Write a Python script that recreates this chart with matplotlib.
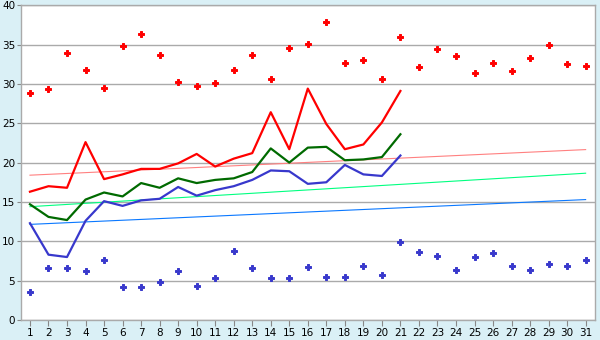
import matplotlib
matplotlib.use("Agg")
import matplotlib.pyplot as plt

days = list(range(1, 32))

# record max / min temperatures (scatter)
rec_max = [28.9, 29.3, 33.9, 31.8, 29.5, 34.8, 36.3, 33.7, 30.2, 29.7,
           30.1, 31.7, 33.7, 30.6, 34.6, 35.1, 37.8, 32.7, 33.0, 30.6,
           36.0, 32.2, 34.4, 33.5, 31.4, 32.6, 31.6, 33.3, 35.0, 32.5, 32.3]
rec_min = [3.6, 6.6, 6.6, 6.2, 7.6, 4.2, 4.2, 4.8, 6.2, 4.3,
           5.4, 8.8, 6.6, 5.4, 5.3, 6.7, 5.5, 5.5, 6.9, 5.7,
           9.9, 8.6, 8.1, 6.3, 8.0, 8.5, 6.9, 6.4, 7.1, 6.8, 7.6]

# this month's observed series (days 1-21)
obs_days = list(range(1, 22))
obs_max = [16.3, 17.0, 16.8, 22.6, 17.9, 18.5, 19.2, 19.2, 19.9, 21.1,
           19.5, 20.5, 21.2, 26.4, 21.7, 29.4, 24.9, 21.7, 22.3, 25.1, 29.1]
obs_avg = [14.7, 13.1, 12.7, 15.3, 16.2, 15.7, 17.4, 16.8, 18.0, 17.4,
           17.8, 18.0, 18.8, 21.8, 20.0, 21.9, 22.0, 20.3, 20.4, 20.7, 23.6]
obs_min = [12.3, 8.3, 8.0, 12.6, 15.1, 14.5, 15.2, 15.4, 16.9, 15.8,
           16.5, 17.0, 17.8, 19.0, 18.9, 17.3, 17.5, 19.7, 18.5, 18.3, 20.9]

# normal (climatological) trend lines, day 1 and day 31
trend_days = [1, 31]
norm_max = [18.4, 21.65]
norm_avg = [14.4, 18.65]
norm_min = [12.15, 15.3]

yticks = [0, 5, 10, 15, 20, 25, 30, 35, 40]

bg = "#daf0f6"
fig = plt.figure(figsize=(6, 3.4), dpi=100, facecolor=bg)
ax = fig.add_axes([0.0345, 0.0588, 0.957, 0.926])
ax.set_facecolor("white")

ax.plot(trend_days, norm_max, color="#ff8080", lw=0.8, zorder=2)
ax.plot(trend_days, norm_avg, color="#00ff80", lw=0.8, zorder=2)
ax.plot(trend_days, norm_min, color="#0a78ff", lw=0.8, zorder=2)

ax.plot(obs_days, obs_max, color="#ff0000", lw=1.6, zorder=3)
ax.plot(obs_days, obs_avg, color="#006a00", lw=1.6, zorder=3)
ax.plot(obs_days, obs_min, color="#3838cc", lw=1.6, zorder=3)

ax.plot(days, rec_max, linestyle="none", marker="P", markersize=4.5,
        color="#ff0000", markeredgewidth=0.7, zorder=4)
ax.plot(days, rec_min, linestyle="none", marker="P", markersize=4.5,
        color="#3838cc", markeredgewidth=0.7, zorder=4)

ax.set_xlim(0.5, 31.5)
ax.set_ylim(0, 40)
ax.set_xticks(days)
ax.set_xticklabels([str(d) for d in days])
ax.set_yticks(yticks)
ax.set_yticklabels([str(v) for v in yticks])
ax.yaxis.grid(True, color="#aaaaaa", lw=1.0)
ax.set_axisbelow(True)
for s in ax.spines.values():
    s.set_color("#aaaaaa")
    s.set_linewidth(1.0)
ax.tick_params(axis="both", colors="#888888", labelcolor="black",
               labelsize=7.5, width=0.8)
ax.tick_params(axis="y", length=3, pad=1)
ax.tick_params(axis="x", length=4, pad=2)

fig.savefig("out.png", dpi=100, facecolor=bg)
